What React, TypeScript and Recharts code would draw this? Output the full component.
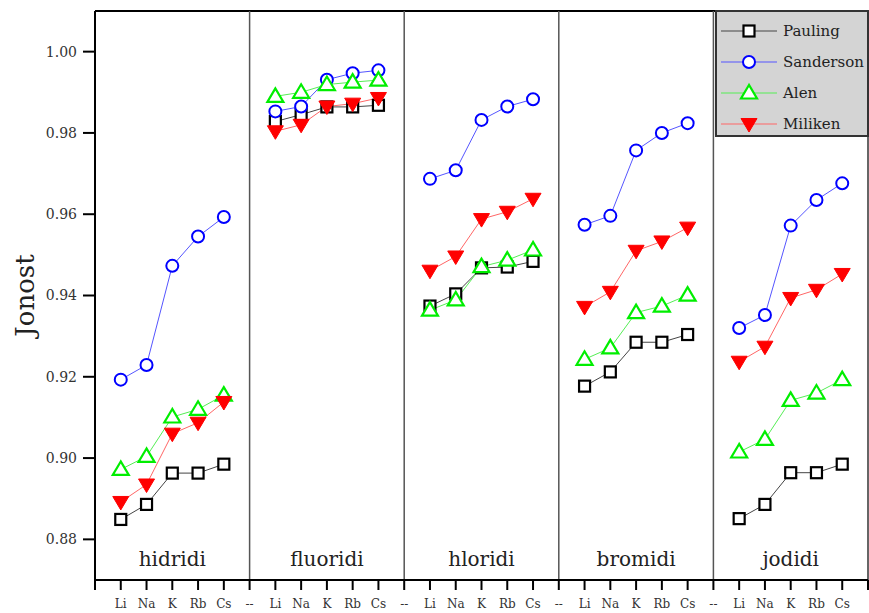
import React from "react";
import { LineChart, Line, XAxis, YAxis, ReferenceLine, ReferenceDot } from "recharts";

// cation labels inside each group, "--" marks the gap between groups
const CATIONS = ["Li", "Na", "K", "Rb", "Cs"];
const GROUPS = ["hidridi", "fluoridi", "hloridi", "bromidi", "jodidi"];

// values per group: hidridi, fluoridi, hloridi, bromidi, jodidi
const PAULING = [
  0.8849, 0.8886, 0.8963, 0.8963, 0.8985,
  0.9828, 0.9845, 0.9864, 0.9864, 0.9868,
  0.9374, 0.9404, 0.9468, 0.9470, 0.9484,
  0.9177, 0.9212, 0.9285, 0.9285, 0.9304,
  0.8851, 0.8886, 0.8964, 0.8964, 0.8985,
];
const SANDERSON = [
  0.9193, 0.9229, 0.9473, 0.9545, 0.9593,
  0.9853, 0.9865, 0.9931, 0.9947, 0.9954,
  0.9687, 0.9708, 0.9832, 0.9865, 0.9883,
  0.9574, 0.9596, 0.9757, 0.9800, 0.9824,
  0.9320, 0.9352, 0.9572, 0.9635, 0.9676,
];
const ALEN = [
  0.8972, 0.9004, 0.9101, 0.9120, 0.9155,
  0.9890, 0.9900, 0.9919, 0.9925, 0.9930,
  0.9364, 0.9389, 0.9471, 0.9487, 0.9512,
  0.9243, 0.9271, 0.9358, 0.9374, 0.9401,
  0.9015, 0.9046, 0.9142, 0.9160, 0.9193,
];
const MILIKEN = [
  0.8892, 0.8935, 0.9060, 0.9087, 0.9138,
  0.9804, 0.9820, 0.9865, 0.9872, 0.9886,
  0.9461, 0.9496, 0.9588, 0.9606, 0.9638,
  0.9372, 0.9409, 0.9510, 0.9533, 0.9567,
  0.9237, 0.9274, 0.9394, 0.9414, 0.9453,
];

const Y_TICKS = [0.88, 0.9, 0.92, 0.94, 0.96, 0.98, 1.0];

const FONT = "'DejaVu Serif', serif";

// one row per x slot, with a null row between groups
const rows: any[] = [];
GROUPS.forEach((_, g) => {
  CATIONS.forEach((_, c) => {
    const k = g * 5 + c;
    rows.push({ x: rows.length, pauling: PAULING[k], sanderson: SANDERSON[k], alen: ALEN[k], miliken: MILIKEN[k] });
  });
  if (g < GROUPS.length - 1) rows.push({ x: rows.length, pauling: null, sanderson: null, alen: null, miliken: null });
});

const X_TICKS = Array.from({ length: rows.length + 2 }, (_, i) => i - 1);
const tickLabel = (v: number) => {
  if (v < 0 || v >= rows.length) return "";
  return v % 6 === 5 ? "--" : CATIONS[v % 6];
};
const SEPARATORS = [5, 11, 17, 23];

const Square = ({ cx, cy }: any) => (
  <rect x={cx - 5.5} y={cy - 5.5} width={11} height={11} fill="#fff" stroke="#000" strokeWidth={2.2} />
);
const Circle = ({ cx, cy }: any) => <circle cx={cx} cy={cy} r={6} fill="#fff" stroke="#0000ff" strokeWidth={2} />;
const TriUp = ({ cx, cy }: any) => (
  <polygon
    points={`${cx},${cy - 8} ${cx - 8},${cy + 5.5} ${cx + 8},${cy + 5.5}`}
    fill="#fff"
    stroke="#00ee00"
    strokeWidth={2.2}
    strokeLinejoin="miter"
  />
);
const TriDown = ({ cx, cy }: any) => (
  <polygon points={`${cx - 8},${cy - 5.5} ${cx + 8},${cy - 5.5} ${cx},${cy + 8}`} fill="#ff0000" stroke="#ff0000" strokeWidth={1} />
);

const makeDot = (Shape: any) => (props: any) => {
  const { cx, cy, index, value } = props;
  if (value == null || cy == null || isNaN(cy)) return <g key={`d${index}`} />;
  return (
    <g key={`d${index}`}>
      <Shape cx={cx} cy={cy} />
    </g>
  );
};

const LEGEND = [
  { name: "Pauling", line: "#444", Shape: Square },
  { name: "Sanderson", line: "#5555ff", Shape: Circle },
  { name: "Alen", line: "#55ee55", Shape: TriUp },
  { name: "Miliken", line: "#ff6666", Shape: TriDown },
];

export default function App() {
  return (
    <div style={{ position: "absolute", left: 0, top: 0, width: 869, height: 613, background: "#fff" }}>
      <LineChart width={869} height={613} data={rows} margin={{ top: 11, right: 1, bottom: 0, left: 0 }}>
        <XAxis
          dataKey="x"
          type="number"
          domain={[-1, rows.length]}
          ticks={X_TICKS}
          interval={0}
          tickFormatter={tickLabel}
          height={33}
          stroke="#000"
          axisLine={{ stroke: "#000", strokeWidth: 2 }}
          tickLine={{ stroke: "#000", strokeWidth: 2 }}
          tickSize={10}
          tickMargin={9}
          tick={{ fill: "#333", fontSize: 12, fontFamily: FONT }}
        />
        <YAxis
          type="number"
          domain={[0.87, 1.01]}
          ticks={Y_TICKS}
          allowDataOverflow
          tickFormatter={(v: number) => v.toFixed(2)}
          width={95}
          axisLine={{ stroke: "#000", strokeWidth: 2 }}
          tickLine={{ stroke: "#000", strokeWidth: 2 }}
          tickSize={12}
          tickMargin={6}
          tick={{ fill: "#333", fontSize: 14, fontFamily: FONT }}
          label={{
            value: "Jonost",
            angle: -90,
            position: "insideLeft",
            offset: 25,
            style: { fontSize: 26, fontFamily: FONT, fill: "#222", textAnchor: "middle" },
          }}
        />
        <ReferenceLine y={1.01} stroke="#000" strokeWidth={2} />
        <ReferenceLine x={rows.length} stroke="#333" strokeWidth={1.5} />
        {SEPARATORS.map((s) => (
          <ReferenceLine key={s} x={s} stroke="#555" strokeWidth={1.5} />
        ))}
        {GROUPS.map((g, i) => (
          <ReferenceDot
            key={g}
            x={i * 6 + 2}
            y={0.8753}
            r={0}
            fill="none"
            stroke="none"
            label={{ value: g, position: "center", style: { fontSize: 20, fontFamily: FONT, fill: "#222" } }}
          />
        ))}
        <Line dataKey="pauling" stroke="#444" strokeWidth={1} dot={makeDot(Square)} activeDot={false} isAnimationActive={false} />
        <Line dataKey="sanderson" stroke="#5555ff" strokeWidth={1} dot={makeDot(Circle)} activeDot={false} isAnimationActive={false} />
        <Line dataKey="alen" stroke="#55ee55" strokeWidth={1} dot={makeDot(TriUp)} activeDot={false} isAnimationActive={false} />
        <Line dataKey="miliken" stroke="#ff6666" strokeWidth={1} dot={makeDot(TriDown)} activeDot={false} isAnimationActive={false} />
      </LineChart>
      <div
        style={{
          position: "absolute",
          left: 715,
          top: 10,
          width: 154,
          height: 127,
          boxSizing: "border-box",
          border: "2px solid #333",
          background: "#d4d4d4",
        }}
      >
        <svg width={150} height={123} style={{ display: "block" }}>
          {LEGEND.map((l, i) => {
            const cy = 19 + i * 31;
            return (
              <g key={l.name}>
                <line x1={4} x2={60} y1={cy} y2={cy} stroke={l.line} strokeWidth={1} />
                <l.Shape cx={32} cy={cy} />
                <text x={66} y={cy} dy="0.35em" fontSize={15} fontFamily={FONT} fill="#222">
                  {l.name}
                </text>
              </g>
            );
          })}
        </svg>
      </div>
    </div>
  );
}
